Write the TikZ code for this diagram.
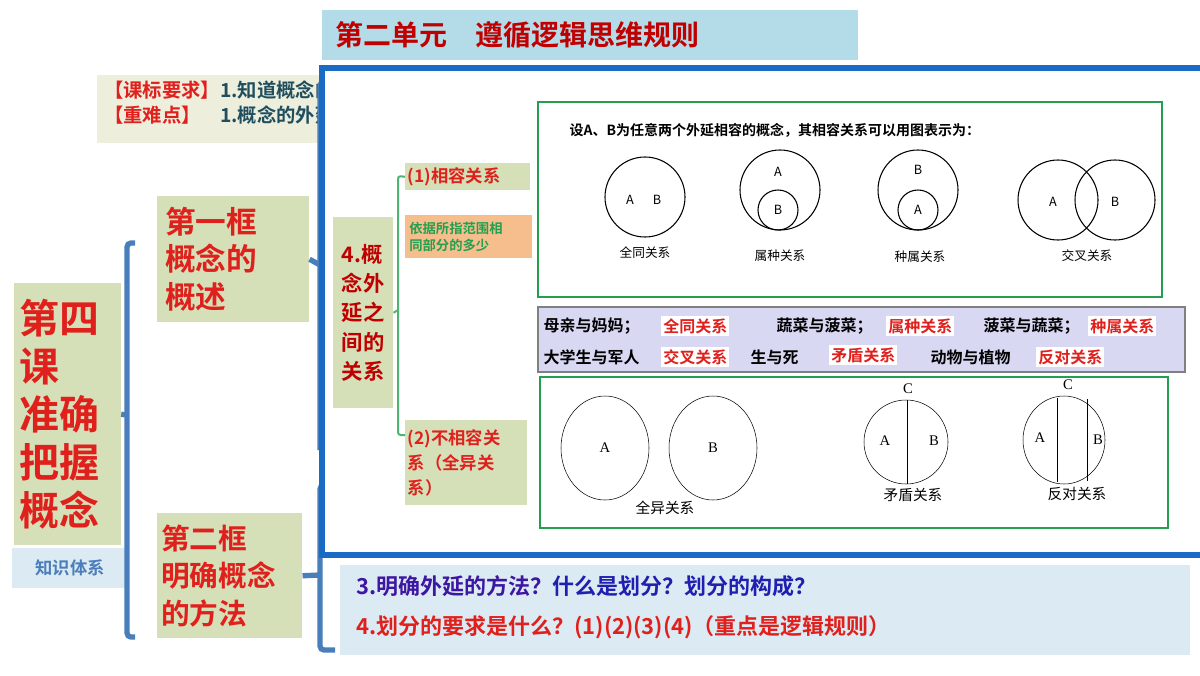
\documentclass[tikz,border=0pt]{standalone}
\usepackage{fontspec}
\setmainfont{Liberation Serif}
\newfontfamily\cjk{Noto Sans CJK SC}
\newfontfamily\cjkb{Noto Sans CJK SC Bold}
\usetikzlibrary{positioning}
\definecolor{titlebg}{HTML}{B4DCE8}
\definecolor{beige}{HTML}{EEEEDD}
\definecolor{leafbg}{HTML}{D5E0B8}
\definecolor{hired}{HTML}{E0201C}
\definecolor{darkred}{HTML}{C00000}
\definecolor{teal}{HTML}{1F4E5F}
\definecolor{panelblue}{HTML}{1A6BC4}
\definecolor{brkblue}{HTML}{4A7EBB}
\definecolor{gframe}{HTML}{22A050}
\definecolor{orangebg}{HTML}{F6BE8C}
\definecolor{lavender}{HTML}{D8D8F2}
\definecolor{paleblue}{HTML}{DCEAF3}
\definecolor{navy}{HTML}{2020B0}
\tikzset{
  leaf/.style={fill=leafbg, inner sep=2pt, align=left, font=\cjkb},
  brk/.style={brkblue, line width=4pt, rounded corners=3pt},
  gbrk/.style={gframe!80, line width=1.5pt, rounded corners=2pt},
  gbox/.style={draw=gframe, line width=2pt},
  lbl/.style={font=\cjk\fontsize{9.5}{11}\selectfont},
  tag/.style={fill=white, text=hired, font=\cjkb\fontsize{12}{14}\selectfont, inner sep=1.5pt},
  plain/.style={font=\cjkb\fontsize{12}{14}\selectfont, inner sep=1pt},
  scan/.style={font=\rmfamily\fontsize{11}{13}\selectfont},
  scancn/.style={font=\cjk\fontsize{11}{13}\selectfont}
}
\begin{document}
\begin{tikzpicture}[x=0.75pt, y=-0.75pt]
    \useasboundingbox (0,0) rectangle (1200,675);

    % Title and course box
    \node[fill=titlebg, minimum width=536*0.75pt, minimum height=50*0.75pt, anchor=north west,
          text=darkred, font=\cjkb\fontsize{21}{24}\selectfont, inner xsep=7pt, text width=510*0.75pt, align=left]
        (title) at (322,10) {第二单元\quad 遵循逻辑思维规则};
    \node[fill=beige, minimum width=233*0.75pt, minimum height=68*0.75pt, anchor=north west] (req) at (97,75) {};
    \node[anchor=north west, align=left, font=\cjkb\fontsize{14.5}{19}\selectfont, inner sep=0pt] (reqtxt) at (104,80)
        {\textcolor{hired}{【课标要求】}\textcolor{teal}{1.知道概念的内涵与外延}\\
         \textcolor{hired}{【重难点】}\quad\textcolor{teal}{1.概念的外延关系}};

    % Lesson and frames
    \node[leaf, text=hired, font=\cjkb\fontsize{30}{36}\selectfont, text width=96*0.75pt,
          minimum height=262*0.75pt, anchor=north west, inner xsep=4pt] (lesson) at (14,283) {第四\\课\\准确\\把握\\概念};
    \node[fill=paleblue, text=brkblue, font=\cjkb\fontsize{13}{15}\selectfont, minimum width=116*0.75pt,
          minimum height=40*0.75pt, anchor=north west] (sys) at (12,548) {知识体系};
    \node[leaf, text=hired, font=\cjkb\fontsize{23}{28}\selectfont, text width=136*0.75pt,
          minimum height=126*0.75pt, anchor=north west, inner xsep=6pt] (frame1) at (157,196) {第一框\\概念的\\概述};
    \node[leaf, text=hired, font=\cjkb\fontsize{21.5}{28}\selectfont, text width=137*0.75pt,
          minimum height=125*0.75pt, anchor=north west, inner xsep=3pt] (frame2) at (157,513) {第二框\\明确概念\\的方法};

    % Brackets
    \coordinate (b1t) at (135,243);
    \coordinate (b1b) at (135,637);
    \draw[brk] (b1t) -- (127,243) -- (127,637) -- (b1b);
    \draw[brk] (lesson.east) -- (127,415);
    \draw[brk] (frame1.east) -- (320,265);
    \draw[brk] (322,82) -- (320,82) -- (320,450);
    \coordinate (b2t) at (335,485);
    \coordinate (b2b) at (335,650);
    \draw[brk] (b2t) -- (320,485) -- (320,650) -- (b2b);
    \draw[brk] (frame2.east) -- (320,575);

    % Questions of the second frame
    \node[fill=paleblue, minimum width=850*0.75pt, minimum height=90*0.75pt, anchor=north west] (qbox) at (340,565) {};
    \node[anchor=west, font=\cjkb\fontsize{16.5}{20}\selectfont, inner sep=0pt] (q3) at (356,586)
        {\textcolor{navy!70!violet}{3.明确外延的方法？}\textcolor{navy}{什么是划分？划分的构成？}};
    \node[anchor=west, font=\cjkb\fontsize{16.5}{20}\selectfont, inner sep=0pt, text=hired] (q4) at (356,627)
        {4.划分的要求是什么？(1)(2)(3)(4)（重点是逻辑规则）};

    % Panel
    \fill[white] (322,68) rectangle (1200,555);
    \draw[panelblue, line width=4pt] (1205,68) -- (322,68) -- (322,555) -- (1205,555);

    \node[leaf, text=darkred, font=\cjkb\fontsize{16}{22}\selectfont, minimum width=60*0.75pt,
          minimum height=191*0.75pt, anchor=north west, inner xsep=2pt] (ext) at (333,217) {4.概\\念外\\延之\\间的\\关系};
    \node[leaf, text=hired, font=\cjkb\fontsize{13}{15}\selectfont, text width=119*0.75pt,
          minimum height=27*0.75pt, anchor=north west] (comp) at (405,163) {(1)相容关系};
    \node[fill=orangebg, text=gframe, font=\cjkb\fontsize{10}{13}\selectfont, text width=119*0.75pt,
          minimum height=43*0.75pt, anchor=north west, align=left, inner xsep=3pt] (basis) at (405,215) {依据所指范围相\\同部分的多少};
    \node[leaf, text=hired, font=\cjkb\fontsize{13}{19}\selectfont, text width=116*0.75pt,
          minimum height=85*0.75pt, anchor=north west] (incomp) at (405,420) {(2)不相容关\\系（全异关\\系）};
    \draw[gbrk] (comp.west) -- (398,176) -- (398,435) -- (405,435);
    \draw[gbrk] (ext.east) -- (398,310);

    % Compatible relations
    \draw[gbox] (538,102) rectangle (1162,297);
    \node[anchor=west, font=\cjkb\fontsize{10.5}{12}\selectfont] (head) at (565,130)
        {设A、B为任意两个外延相容的概念，其相容关系可以用图表示为：};
    \draw[thick] (645,197) circle (40);
    \node[lbl] (sa) at (630,200) {A};  \node[lbl] (sb) at (657,200) {B};
    \node[lbl] (r1) at (645,253) {全同关系};
    \draw[thick] (780,190) circle (40);  \draw[thick] (778,210) circle (20);
    \node[lbl] (ga) at (778,172) {A};  \node[lbl] (gb) at (778,210) {B};
    \node[lbl] (r2) at (780,256) {属种关系};
    \draw[thick] (918,190) circle (40);  \draw[thick] (918,210) circle (20);
    \node[lbl] (ha) at (918,210) {A};  \node[lbl] (hb) at (918,170) {B};
    \node[lbl] (r3) at (920,257) {种属关系};
    \draw[thick] (1058,200) circle (40);  \draw[thick] (1115,200) circle (40);
    \node[lbl] (ca) at (1053,202) {A};  \node[lbl] (cb) at (1115,202) {B};
    \node[lbl] (r4) at (1087,256) {交叉关系};

    % Examples
    \draw[fill=lavender, draw=gray, line width=1pt] (538,307) rectangle (1185,372);
    \node[plain, anchor=west] (e1) at (542,326) {母亲与妈妈；};
    \node[tag, anchor=west] (t1) at (661,326) {全同关系};
    \node[plain, anchor=west] (e2) at (775,326) {蔬菜与菠菜；};
    \node[tag, anchor=west] (t2) at (886,326) {属种关系};
    \node[plain, anchor=west] (e3) at (982,326) {菠菜与蔬菜；};
    \node[tag, anchor=west] (t3) at (1088,326) {种属关系};
    \node[plain, anchor=west] (e4) at (542,357) {大学生与军人};
    \node[tag, anchor=west] (t4) at (661,357) {交叉关系};
    \node[plain, anchor=west] (e5) at (749,357) {生与死};
    \node[tag, anchor=west] (t5) at (829,355) {矛盾关系};
    \node[plain, anchor=west] (e6) at (929,357) {动物与植物};
    \node[tag, anchor=west] (t6) at (1036,357) {反对关系};

    % Incompatible relations
    \draw[gbox] (540,377) rectangle (1168,528);
    \draw (605,448) ellipse (44 and 52);  \draw (713,448) ellipse (44 and 52);
    \node[scan] (da) at (605,448) {A};
    \node[scan] (db) at (713,448) {B};
    \node[scancn] (r5) at (665,508) {全异关系};
    \draw (906,442) circle (42);  \draw (907,400) -- (907,484);
    \node[scan] (mc) at (908,389) {C};
    \node[scan] (ma) at (885,441) {A};
    \node[scan] (mb) at (934,441) {B};
    \node[scancn] (r6) at (913,495) {矛盾关系};
    \draw (1064,440) ellipse (41 and 44);
    \draw (1057,398) -- (1057,482);  \draw (1087,399) -- (1087,481);
    \node[scan] (fc) at (1068,385) {C};
    \node[scan] (fa) at (1040,438) {A};
    \node[scan] (fb) at (1098,440) {B};
    \node[scancn] (r7) at (1077,494) {反对关系};
\end{tikzpicture}
\end{document}
